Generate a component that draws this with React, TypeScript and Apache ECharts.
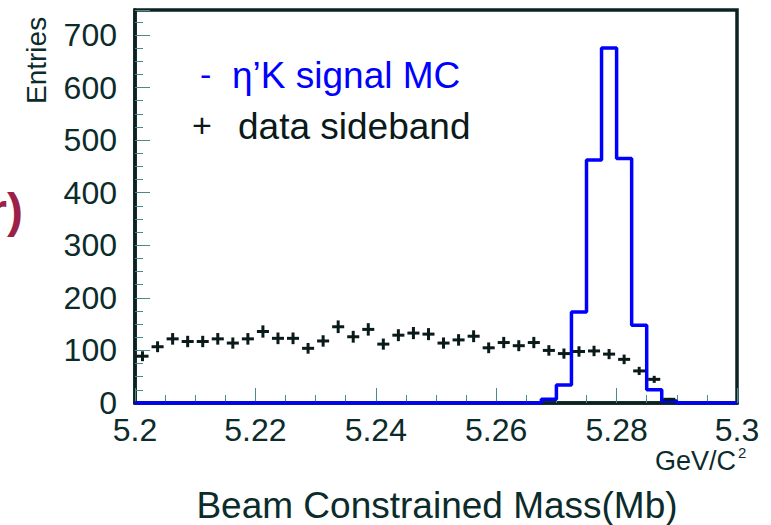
import React, { useEffect, useRef } from "react";
import * as echarts from "echarts";

const X_MIN = 5.2;
const X_MAX = 5.3;
const BIN_WIDTH = 0.0025;
const Y_MAX = 747.5;

const xTickLabels = ["5.2", "5.22", "5.24", "5.26", "5.28", "5.3"];
const yTickLabels = ["0", "100", "200", "300", "400", "500", "600", "700"];

// eta'K signal MC histogram, 40 bins of 0.0025 from 5.2
const signalMC = [
  0, 0, 0, 0, 0, 0, 0, 0, 0, 0,
  0, 0, 0, 0, 0, 0, 0, 0, 0, 0,
  0, 0, 0, 0, 0, 0, 0, 7, 34, 173,
  462, 675, 465, 148, 25, 4, 0, 0, 0, 0,
];

// data sideband entries (bins 0..35)
const sideband = [
  89, 107, 122, 117, 117, 122, 114, 122, 136, 123,
  123, 104, 118, 145, 126, 140, 112, 129, 133, 131,
  114, 120, 127, 105, 115, 109, 115, 100, 94, 98,
  99, 93, 83, 61, 45, 7,
];

const legendLabels = ["η’K signal MC", "data sideband"];
const xAxisTitle = "Beam Constrained Mass(Mb)";
const yAxisTitle = "Entries";

const TEXT = "#0c2b2b";
const FRAME = "#0a2222";
const FONT = "Liberation Sans, Arial, Helvetica, sans-serif";

export default function App() {
  const ref = useRef<HTMLDivElement>(null);
  useEffect(() => {
    const chart = echarts.init(ref.current!, null, { renderer: "svg" });
    const histPts: number[][] = [];
    signalMC.forEach((v, i) => {
      const lo = X_MIN + i * BIN_WIDTH;
      histPts.push([lo, v], [lo + BIN_WIDTH, v]);
    });
    const sbData = sideband.map((v, i) => [X_MIN + (i + 0.5) * BIN_WIDTH, v]);

    chart.setOption({
      animation: false,
      backgroundColor: "#ffffff",
      grid: {
        left: 135,
        right: 34,
        top: 10,
        bottom: 122,
        show: true,
        borderColor: FRAME,
        borderWidth: 3.5,
        backgroundColor: "transparent",
      },
      xAxis: {
        type: "value",
        min: X_MIN,
        max: X_MAX,
        interval: 0.02,
        axisLine: { show: true, onZero: false, lineStyle: { color: FRAME, width: 3.5 } },
        splitLine: { show: false },
        axisTick: { show: true, inside: true, length: 15, lineStyle: { color: "#4a8a8a", width: 1 } },
        minorTick: { show: true, splitNumber: 4, length: 8, lineStyle: { color: "#4a8a8a", width: 1 } },
        axisLabel: {
          margin: 11,
          fontSize: 32,
          fontFamily: FONT,
          color: TEXT,
          formatter: (v: number) => {
            const idx = Math.round((v - X_MIN) / 0.02);
            return Math.abs(v - (X_MIN + idx * 0.02)) < 1e-6 ? xTickLabels[idx] ?? "" : "";
          },
        },
      },
      yAxis: {
        type: "value",
        min: 0,
        max: Y_MAX,
        interval: 100,
        axisLine: { show: true, lineStyle: { color: FRAME, width: 3.5 } },
        splitLine: { show: false },
        axisTick: { show: true, inside: true, length: 15, lineStyle: { color: "#4a8a8a", width: 1 } },
        minorTick: { show: true, splitNumber: 4, length: 8, lineStyle: { color: "#4a8a8a", width: 1 } },
        axisLabel: {
          margin: 18,
          fontSize: 32,
          fontFamily: FONT,
          color: TEXT,
          showMaxLabel: false,
          formatter: (v: number) => {
            const idx = Math.round(v / 100);
            return Math.abs(v - idx * 100) < 1e-6 ? yTickLabels[idx] ?? "" : "";
          },
        },
      },
      series: [
        {
          type: "line",
          data: histPts,
          symbol: "none",
          lineStyle: { color: "#0000ff", width: 3.5 },
          z: 5,
        },
        {
          type: "custom",
          data: sbData,
          z: 6,
          renderItem: (params: any, api: any) => {
            const x = api.value(0);
            const y = api.value(1);
            const err = Math.sqrt(y);
            const l = api.coord([x - BIN_WIDTH / 2, y]);
            const r = api.coord([x + BIN_WIDTH / 2, y]);
            const t = api.coord([x, y + err]);
            const b = api.coord([x, Math.max(0, y - err)]);
            const st = { stroke: "#0a1a1a", lineWidth: 3 };
            return {
              type: "group",
              children: [
                { type: "line", shape: { x1: l[0] + 1.5, y1: l[1], x2: r[0] - 1.5, y2: r[1] }, style: st },
                { type: "line", shape: { x1: t[0], y1: t[1], x2: b[0], y2: b[1] }, style: st },
              ],
            };
          },
        },
      ],
      graphic: [
        {
          type: "text",
          left: 200,
          top: 57,
          style: { text: "-", fontSize: 34, fontFamily: FONT, fill: "#0000ff" },
        },
        {
          type: "text",
          left: 232,
          top: 57,
          style: { text: legendLabels[0], fontSize: 37, fontFamily: FONT, fill: "#0000ff" },
        },
        {
          type: "text",
          left: 192,
          top: 108,
          style: { text: "+", fontSize: 34, fontFamily: FONT, fill: "#0a1a1a" },
        },
        {
          type: "text",
          left: 238,
          top: 108,
          style: { text: legendLabels[1], fontSize: 37, fontFamily: FONT, fill: "#0a1a1a" },
        },
        {
          type: "text",
          x: 22,
          y: 104,
          rotation: Math.PI / 2,
          style: { text: yAxisTitle, fontSize: 28, fontFamily: FONT, fill: TEXT, textAlign: "left", textVerticalAlign: "top" },
        },
        {
          type: "text",
          x: 736,
          y: 447,
          style: {
            text: "GeV/C",
            fontSize: 27,
            fontFamily: FONT,
            fill: TEXT,
            textAlign: "right",
          },
        },
        {
          type: "text",
          x: 738,
          y: 445,
          style: { text: "2", fontSize: 15, fontFamily: FONT, fill: TEXT, textAlign: "left" },
        },
        {
          type: "text",
          x: 437,
          y: 487,
          style: { text: xAxisTitle, fontSize: 37, fontFamily: FONT, fill: TEXT, textAlign: "center" },
        },
        {
          type: "text",
          x: 23,
          y: 186,
          style: { text: "r)", fontSize: 48, fontWeight: "bold", fontFamily: FONT, fill: "#9a2148", textAlign: "right" },
        },
      ],
    });
    return () => chart.dispose();
  }, []);
  return <div ref={ref} style={{ position: "fixed", left: 0, top: 0, width: 771, height: 525 }} />;
}
